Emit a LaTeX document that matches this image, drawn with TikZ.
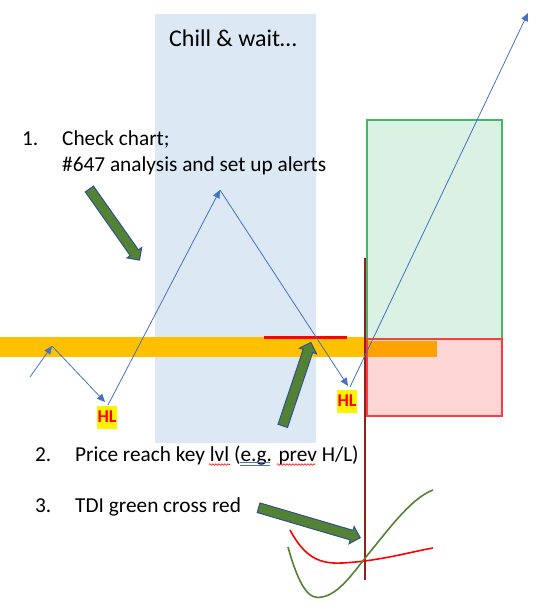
\documentclass[tikz,border=0pt]{standalone}
\usepackage{fontspec}
\setmainfont{Carlito}
\usetikzlibrary{shapes.arrows,arrows.meta,decorations.pathmorphing}
\definecolor{chillbg}{RGB}{221,232,245}
\definecolor{band}{RGB}{255,192,0}
\definecolor{bandDark}{RGB}{255,162,0}
\definecolor{gfill}{RGB}{214,240,224}
\definecolor{gline}{RGB}{64,184,104}
\definecolor{rfill}{RGB}{255,214,214}
\definecolor{rline}{RGB}{255,60,60}
\definecolor{pblue}{RGB}{68,114,196}
\definecolor{fatfill}{RGB}{84,130,53}
\definecolor{fatline}{RGB}{47,82,143}
\definecolor{vline}{RGB}{150,30,30}
\begin{document}
\begin{tikzpicture}[x=1pt,y=-1pt,
  price/.style={draw=pblue,line width=0.8pt,-{Triangle[length=8pt,width=7pt]}},
  fatarrow/.style={single arrow,fill=fatfill,draw=fatline,line width=1pt,
    inner sep=4.5pt,single arrow head extend=4pt,single arrow tip angle=90},
  hl/.style={fill=yellow,text=red,font=\fontsize{18}{18}\selectfont\bfseries,
    inner sep=1pt,minimum width=20pt,minimum height=23pt},
  bodytext/.style={anchor=base west,inner sep=0pt,font=\fontsize{21.3}{26}\selectfont},
  spell/.style={draw=red,line width=0.6pt,decorate,
    decoration={snake,amplitude=0.8pt,segment length=3pt}}]
\useasboundingbox (0,0) rectangle (541,614);
% background zone
\fill[chillbg] (155,14) rectangle (316,443);
\node[anchor=base,inner sep=0pt,font=\fontsize{24}{28}\selectfont] (chill) at (233,46) {Chill \& wait…};
% key level band
\fill[band] (0,337) rectangle (366,357);
% target / stop boxes
\draw[gline,fill=gfill,fill opacity=0.9,line width=1.8pt] (367,120) rectangle (502,339);
\draw[rline,fill=rfill,line width=1.8pt] (367,339) rectangle (502,416);
\fill[bandDark] (368,340.5) rectangle (437,357);
% red key level
\draw[red,line width=3pt] (264,337) -- (347,337);
% vertical signal line
\coordinate (vtop) at (365,258);
\coordinate (vbot) at (365,580);
\draw[vline,line width=1.3pt] (vtop) -- (vbot);
% price path
\coordinate (p0) at (30,377);
\coordinate (p1) at (52,346);
\coordinate (p2) at (105,402);
\coordinate (p2b) at (108,405);
\coordinate (p3) at (220,190);
\coordinate (p4) at (348,386);
\coordinate (p4b) at (350,387);
\coordinate (p5) at (528,13);
\draw[price] (p0) -- (p1);
\draw[price] (p1) -- (p2);
\draw[price] (p2b) -- (p3);
\draw[price] (p3) -- (p4);
\draw[price] (p4b) -- (p5);
% HL labels
\node[hl] (hl1) at (107,417) {HL};
\node[hl] (hl2) at (347,401) {HL};
% texts
\node[bodytext] (n1) at (22,145) {1.};
\node[bodytext] (t1) at (62,145) {Check chart;};
\node[bodytext] (t1b) at (62,171) {\#647 analysis and set up alerts};
\node[bodytext] (n2) at (35,461) {2.};
\node[bodytext] (t2) at (75,461) {Price reach key lvl (e.g. prev H/L)};
\node[bodytext] (n3) at (35,512) {3.};
\node[bodytext] (t3) at (75,512) {TDI green cross red};
% spell-check marks
\draw[spell] (209,464.5) -- (230,464.5);
\draw[spell] (277,464.5) -- (315,464.5);
\draw[pblue,line width=0.6pt] (240,462.5) -- (270,462.5);
\draw[pblue,line width=0.6pt] (240,465) -- (270,465);
% fat arrows
\node[fatarrow,minimum height=87pt,rotate=-54.8] (fa1) at (113,222.5) {};
\node[fatarrow,minimum height=88pt,rotate=71.4] (fa2) at (296,386.5) {};
\node[fatarrow,minimum height=106pt,rotate=-16.4] (fa3) at (307,522) {};
% TDI lines
\draw[red,line width=1.6pt] (290,530) .. controls (305,558) and (320,564) .. (342,563)
  .. controls (380,561) and (410,552) .. (433,548);
\draw[fatfill,line width=1.6pt] (288,547) .. controls (300,590) and (310,600) .. (322,597)
  .. controls (340,594) and (355,570) .. (370,552)
  .. controls (392,525) and (412,498) .. (433,490);
\end{tikzpicture}
\end{document}
